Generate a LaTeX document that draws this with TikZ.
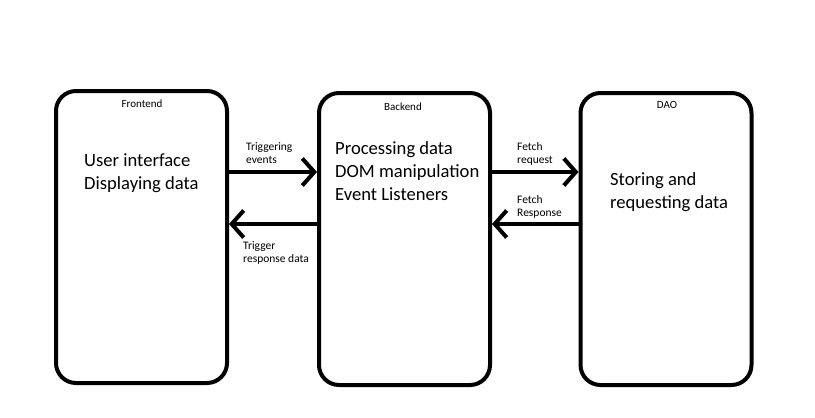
\documentclass[tikz,border=0pt]{standalone}
\usepackage{fontspec}
\setmainfont{Carlito}
\usetikzlibrary{arrows.meta}
\begin{document}
\begin{tikzpicture}[x=1pt,y=-1pt,
  box/.style={draw,line width=4pt,rounded corners=20pt,minimum width=171pt,minimum height=292pt,inner sep=0pt},
  title/.style={font=\fontsize{11}{13.4}\selectfont,inner sep=0pt,anchor=base},
  body/.style={font=\fontsize{18.6}{22.7}\selectfont,align=left,inner sep=0pt,anchor=base west},
  lbl/.style={font=\fontsize{11.5}{12.8}\selectfont,align=left,inner sep=0pt,anchor=base west},
  arr/.style={line width=4pt,-{Straight Barb[length=12pt,width=27pt,line width=4pt]}}]
\useasboundingbox (0,0) rectangle (815,418);
\fill[white] (0,0) rectangle (815,418);
\node[box] (b1) at (141.5,237) {};
\node[box] (b2) at (404.5,239) {};
\node[box] (b3) at (666,239) {};
\node[title] (t1) at (142,107) {Frontend};
\node[title] (t2) at (403,110) {Backend};
\node[title] (t3) at (667,108) {DAO};
\node[body] (m1) at (84,189) {User interface\\Displaying data};
\node[body] (m2) at (335,200) {Processing data\\DOM manipulation\\Event Listeners};
\node[body] (m3) at (610,208) {Storing and\\requesting data};
\coordinate (ya) at (0,172);
\coordinate (yb) at (0,224);
\draw[arr] (b1.east |- ya) -- (b2.west |- ya);
\draw[arr] (b2.west |- yb) -- (b1.east |- yb);
\draw[arr] (b2.east |- ya) -- (b3.west |- ya);
\draw[arr] (b3.west |- yb) -- (b2.east |- yb);
\node[lbl] (l1) at (246,163) {Triggering\\events};
\node[lbl] (l2) at (243,262) {Trigger\\response data};
\node[lbl] (l3) at (517,163) {Fetch\\request};
\node[lbl] (l4) at (517,216) {Fetch\\Response};
\end{tikzpicture}
\end{document}
